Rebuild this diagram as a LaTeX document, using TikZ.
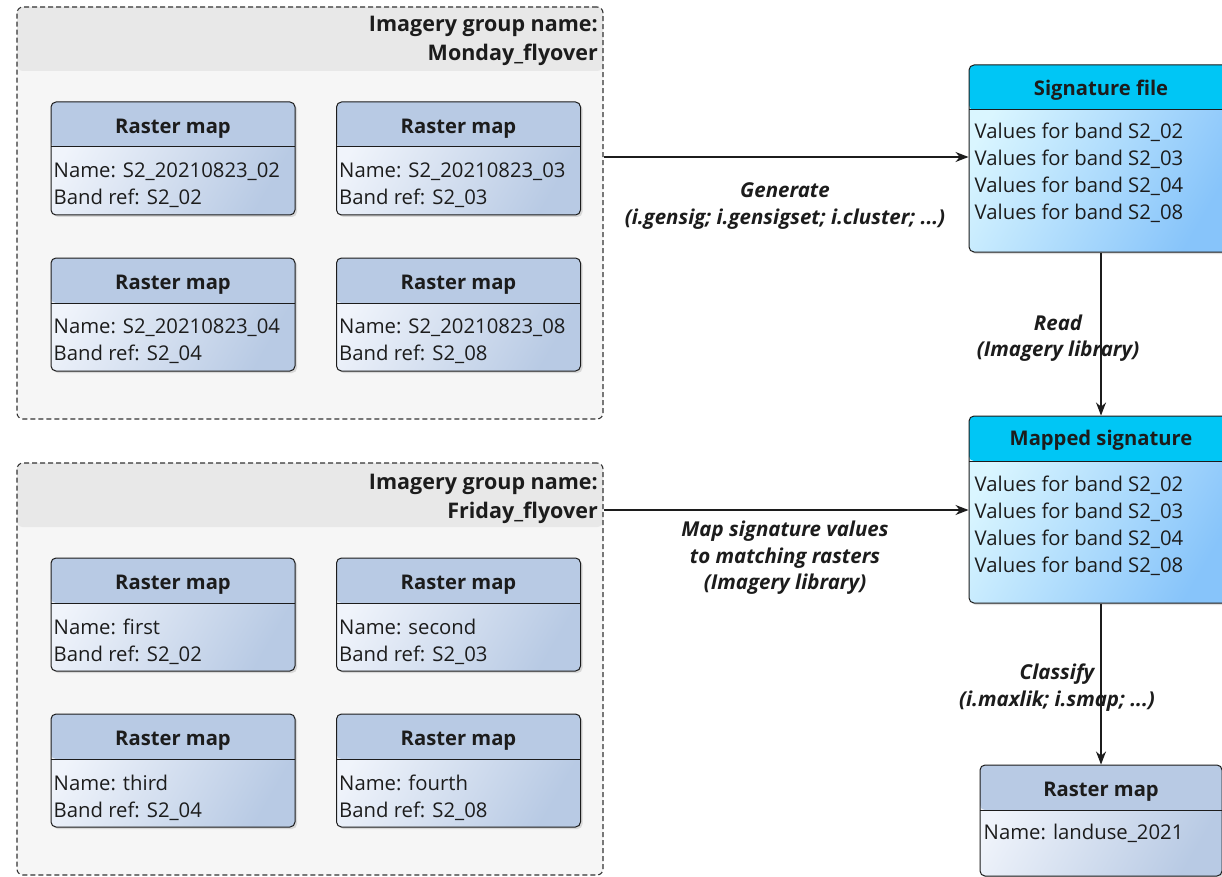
\documentclass[tikz,border=0pt]{standalone}
\usepackage{fontspec}
\setmainfont{Open Sans}
\usetikzlibrary{arrows.meta,shadows,calc}
\definecolor{rhead}{RGB}{184,202,228}
\definecolor{rlight}{RGB}{240,244,251}
\definecolor{shead}{RGB}{0,198,245}
\definecolor{slight}{RGB}{218,246,255}
\definecolor{sdark}{RGB}{135,196,250}
\definecolor{gbody}{RGB}{246,246,246}
\definecolor{ghead}{RGB}{232,232,232}
\definecolor{ink}{RGB}{28,28,28}
\tikzset{
  txt/.style={font=\fontsize{20.3}{27}\selectfont, text=ink, inner sep=0pt},
  btxt/.style={txt, font=\fontsize{20.2}{27}\selectfont\bfseries},
  gtxt/.style={txt, font=\fontsize{21.5}{29}\selectfont\bfseries, align=right, anchor=east},
  etxt/.style={txt, font=\fontsize{20.5}{26.5}\selectfont\bfseries\itshape, align=center},
  group/.style={draw=ink!90, dash pattern=on 5pt off 3pt, line width=1.1pt,
    rounded corners=6pt, fill=gbody, minimum width=586pt, minimum height=412pt,
    inner sep=0pt,
    path picture={\fill[ghead] (path picture bounding box.north west) rectangle
      ([yshift=-64pt]path picture bounding box.north east);}},
  card/.style={draw=ink, line width=1pt, rounded corners=5pt, inner sep=0pt,
    drop shadow={opacity=0.25, shadow xshift=2pt, shadow yshift=-2pt},
    path picture={\fill[#1] (path picture bounding box.north west) rectangle
      ([yshift=-45pt]path picture bounding box.north east);
      \draw[ink, line width=1pt] ([yshift=-45pt]path picture bounding box.north west)
      -- ([yshift=-45pt]path picture bounding box.north east);}},
  rbox/.style={card=rhead, left color=rlight, right color=rhead, shading angle=60,
    minimum width=244pt, minimum height=113pt},
  sbox/.style={card=shead, left color=slight, right color=sdark, shading angle=60,
    minimum width=264pt, minimum height=187pt},
  arr/.style={draw=ink, line width=1.1pt, -{Stealth[length=13pt, width=10pt]}},
}
\begin{document}
\begin{tikzpicture}[x=1pt, y=-1pt]
\useasboundingbox (0,0) rectangle (1222,877);
\clip (0,0) rectangle (1222,877);
\fill[white] (0,0) rectangle (1222,877);

% groups
\node[group] (g1) at (310,213) {};
\node[group] (g2) at (310,669) {};
\node[gtxt] (g1t) at (598,41) {Imagery group name:\\Monday\_flyover};
\node[gtxt] (g2t) at (598,499) {Imagery group name:\\Friday\_flyover};

% raster maps, groups 1 and 2
\foreach \n/\x/\y/\nm/\bd in {a/173/158.5/S2\_20210823\_02/S2\_02, b/458.5/158.5/S2\_20210823\_03/S2\_03,
  c/173/314.5/S2\_20210823\_04/S2\_04, d/458.5/314.5/S2\_20210823\_08/S2\_08,
  e/173/614.5/first/S2\_02, f/458.5/614.5/second/S2\_03,
  g/173/770.5/third/S2\_04, h/458.5/770.5/fourth/S2\_08}{
  \node[rbox] (r\n) at (\x,\y) {};
  \node[btxt] (r\n h) at ($(r\n.north)+(0,27)$) {Raster map};
  \node[txt, align=left, anchor=west] (r\n b) at ($(r\n.north west)+(3,84)$) {Name: \nm\\Band ref: \bd};
}

% signature boxes
\node[sbox] (sig) at (1101,158.5) {};
\node[btxt] (sigh) at ($(sig.north)+(0,26)$) {Signature file};
\node[txt, align=left, anchor=west] (sigb) at ($(sig.north west)+(6,108.5)$)
  {Values for band S2\_02\\Values for band S2\_03\\Values for band S2\_04\\Values for band S2\_08};

\node[sbox] (map) at (1101,509.5) {};
\node[btxt] (maph) at ($(map.north)+(0,25)$) {Mapped signature};
\node[txt, align=left, anchor=west] (mapb) at ($(map.north west)+(6,110)$)
  {Values for band S2\_02\\Values for band S2\_03\\Values for band S2\_04\\Values for band S2\_08};

\node[rbox, minimum width=242pt, minimum height=111pt] (out) at (1101,820.5) {};
\node[btxt] (outh) at ($(out.north)+(0,27)$) {Raster map};
\node[txt, anchor=west] (outb) at ($(out.north west)+(4,69)$) {Name: landuse\_2021};

% connectors
\coordinate (gen) at (0,157);
\coordinate (mp) at (0,510);
\draw[arr] (g1.east |- gen) -- (sig.west |- gen);
\draw[arr] (g2.east |- mp) -- (map.west |- mp);
\draw[arr] (sig.south) -- (map.north);
\draw[arr] (map.south) -- (out.north);

% edge labels
\node[etxt] (l1) at (785,206) {Generate\\(i.gensig; i.gensigset; i.cluster; ...)};
\node[etxt] (l2) at (1058,338) {Read\\(Imagery library)};
\node[etxt] (l3) at (785,558) {Map signature values\\to matching rasters\\(Imagery library)};
\node[etxt] (l4) at (1057,687.5) {Classify\\(i.maxlik; i.smap; ...)};
\end{tikzpicture}
\end{document}
